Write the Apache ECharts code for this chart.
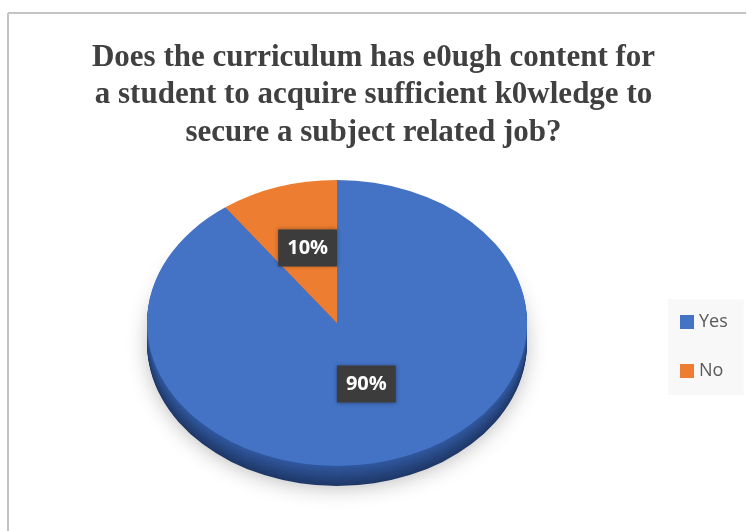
<!DOCTYPE html>
<html>
<head>
    <meta charset="utf-8">
    <title>curriculum pie</title>
    <script src="https://cdn.jsdelivr.net/npm/echarts@6/dist/echarts.min.js"></script>
</head>
<body style="margin:0">
    <div id="main" style="width: 747px;height:531px;"></div>
    <script>
        var titleText = 'Does the curriculum has e0ugh content for\na student to acquire sufficient k0wledge to\nsecure a subject related job?';
        var categories = ['Yes', 'No'];
        var values = [90, 10];
        var topColors = ['#4472C4', '#ED7D31'];
        var sideColors = [['#3159a0', '#1f3868'], ['#c0652a', '#8f4a1a']];

        var myChart = echarts.init(document.getElementById('main'));

        // pie geometry (top face ellipse)
        var cx = 337, cy = 323, rx = 190, ry = 143, depth = 20;
        var squash = ry / rx;
        var total = values.reduce(function (a, b) { return a + b; }, 0);

        function sliceAngles(idx) {
            var start = -Math.PI / 2;
            for (var i = 0; i < idx; i++) start += values[i] / total * Math.PI * 2;
            return [start, start + values[idx] / total * Math.PI * 2];
        }

        function makeRender(idx) {
            return function (params, api) {
                var v = api.value(0);
                var ang = sliceAngles(idx);
                var children = [];
                // side wall: stacked layers, darker towards the bottom
                for (var d = depth; d >= 1; d--) {
                    children.push({
                        type: 'sector',
                        z2: 1,
                        shape: { cx: cx, cy: cy + d / squash, r0: 0, r: rx, startAngle: ang[0], endAngle: ang[1], clockwise: true },
                        style: { fill: echarts.color.lerp(d / depth, sideColors[idx]) }
                    });
                }
                children.push({
                    type: 'sector',
                    z2: 5,
                    shape: { cx: cx, cy: cy, r0: 0, r: rx, startAngle: ang[0], endAngle: ang[1], clockwise: true },
                    style: { fill: topColors[idx] }
                });
                var mid = (ang[0] + ang[1]) / 2;
                var lr = rx * 0.5;
                return {
                    type: 'group',
                    children: [
                        { type: 'group', originX: cx, originY: cy, scaleY: squash, children: children },
                        {
                            type: 'text',
                            z2: 10,
                            x: cx + Math.cos(mid) * lr,
                            y: cy + Math.sin(mid) * lr * squash - 7,
                            style: {
                                text: v + '%',
                                fill: '#fff',
                                font: 'bold 20px "Open Sans", sans-serif',
                                align: 'center',
                                verticalAlign: 'middle',
                                backgroundColor: '#3c3c3c',
                                padding: [9, 9, 8, 9],
                                shadowBlur: 4,
                                shadowColor: 'rgba(0,0,0,0.35)'
                            }
                        }
                    ]
                };
            };
        }

        var series = categories.map(function (name, i) {
            return {
                name: name,
                type: 'custom',
                coordinateSystem: 'none',
                animation: false,
                z: 3,
                itemStyle: { color: topColors[i] },
                renderItem: makeRender(i),
                data: [[values[i]]]
            };
        });

        var option = {
            backgroundColor: '#fff',
            title: {
                text: titleText,
                left: 'center',
                top: 34,
                textStyle: {
                    fontFamily: 'Liberation Serif',
                    fontWeight: 'bold',
                    fontSize: 31,
                    lineHeight: 37.5,
                    color: '#404040'
                }
            },
            legend: {
                orient: 'vertical',
                left: 668,
                top: 299,
                padding: [14, 16, 15, 12],
                backgroundColor: '#f8f8f8',
                itemWidth: 14,
                itemHeight: 14,
                itemGap: 31,
                icon: 'rect',
                data: categories,
                textStyle: { fontSize: 18, lineHeight: 14, color: '#595959', fontFamily: 'Open Sans' }
            },
            graphic: [
                { type: 'line', shape: { x1: 8, y1: 13, x2: 746, y2: 13 }, style: { stroke: '#c4c4c4', lineWidth: 2 } },
                { type: 'line', shape: { x1: 8, y1: 13, x2: 8, y2: 531 }, style: { stroke: '#c4c4c4', lineWidth: 2 } },
                {
                    type: 'ellipse', z: 1,
                    shape: { cx: cx, cy: cy + depth - 2, rx: rx - 2, ry: ry - 2 },
                    style: { fill: '#fff', shadowBlur: 22, shadowColor: 'rgba(0,0,0,0.3)', shadowOffsetY: 4 }
                }
            ],
            series: series
        };
        myChart.setOption(option);
    </script>
</body>
</html>
